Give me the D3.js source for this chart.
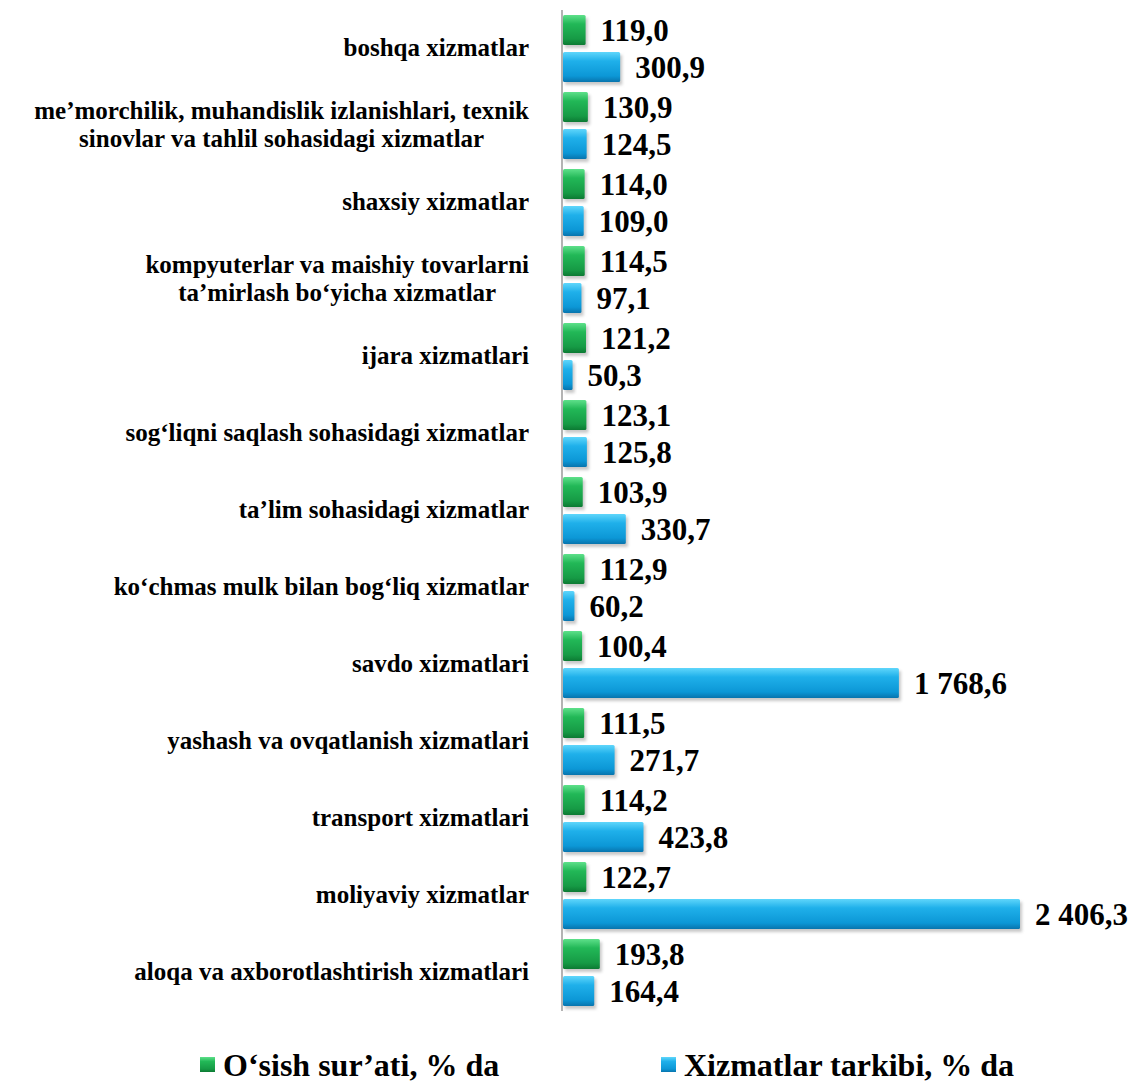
<!DOCTYPE html>
<html lang="uz">
<head>
<meta charset="UTF-8">
<title>Xizmatlar</title>
<script src="https://cdnjs.cloudflare.com/ajax/libs/d3/7.8.5/d3.min.js"></script>
<style>
    body { margin: 0; background: #fff; }
    svg { display: block; font-family: 'Liberation Serif', 'DejaVu Serif', serif; }
    text { font-weight: bold; fill: #000; }
    .cat { font-size: 25px; }
    .val { font-size: 31px; }
    .leg { font-size: 32px; }
</style>
</head>
<body>
<svg width="1132" height="1084"></svg>
<script>
    // kategoriyalar (ko'p qatorli yorliqlar massiv sifatida)
    const categories = [
        ["boshqa xizmatlar"],
        ["me’morchilik, muhandislik izlanishlari, texnik", "sinovlar va tahlil sohasidagi xizmatlar"],
        ["shaxsiy xizmatlar"],
        ["kompyuterlar va maishiy tovarlarni", "ta’mirlash bo‘yicha xizmatlar"],
        ["ijara xizmatlari"],
        ["sog‘liqni saqlash sohasidagi xizmatlar"],
        ["ta’lim sohasidagi xizmatlar"],
        ["ko‘chmas mulk bilan bog‘liq xizmatlar"],
        ["savdo xizmatlari"],
        ["yashash va ovqatlanish xizmatlari"],
        ["transport xizmatlari"],
        ["moliyaviy xizmatlar"],
        ["aloqa va axborotlashtirish xizmatlari"]
    ];
    const growth = [119.0, 130.9, 114.0, 114.5, 121.2, 123.1, 103.9, 112.9, 100.4, 111.5, 114.2, 122.7, 193.8];
    const structure = [300.9, 124.5, 109.0, 97.1, 50.3, 125.8, 330.7, 60.2, 1768.6, 271.7, 423.8, 2406.3, 164.4];
    const seriesNames = ["O‘sish sur’ati, % da", "Xizmatlar tarkibi, % da"];

    const svg = d3.select("svg");
    const defs = svg.append("defs");

    const colors = [
        ["#5ee08a", "#22b857", "#169a45", "#0c7a33"],
        ["#5fd6fb", "#1fb0ea", "#0c97d6", "#0874ad"]
    ];
    colors.forEach((c, i) => {
        const g = defs.append("linearGradient").attr("id", "grad" + i)
            .attr("x1", 0).attr("y1", 0).attr("x2", 0).attr("y2", 1);
        g.append("stop").attr("offset", "0%").attr("stop-color", c[0]);
        g.append("stop").attr("offset", "30%").attr("stop-color", c[1]);
        g.append("stop").attr("offset", "80%").attr("stop-color", c[2]);
        g.append("stop").attr("offset", "100%").attr("stop-color", c[3]);
    });
    const blur = defs.append("filter").attr("id", "shadow")
        .attr("x", "-10%").attr("y", "-10%").attr("width", "130%").attr("height", "140%");
    blur.append("feGaussianBlur").attr("stdDeviation", 1.5);

    const locale = d3.formatLocale({ decimal: ",", thousands: " ", grouping: [3], currency: ["", ""] });
    const fmt = locale.format(",.1f");

    const keys = categories.map((d, i) => i);
    const y0 = d3.scaleBand().domain(keys).range([10, 1011]);
    const y1 = d3.scaleBand().domain([0, 1]).range([5, 72]).paddingInner(0.19);
    const x = d3.scaleLinear().domain([0, 2406.3]).range([563, 1020]);

    const rows = keys.map(i => [growth[i], structure[i]]);

    const groups = svg.selectAll(".grp")
        .data(rows)
        .join("g")
        .attr("class", "grp")
        .attr("transform", (d, i) => `translate(0,${y0(i)})`);

    const bars = groups.selectAll(".bar")
        .data(d => d.map((v, s) => ({ v, s })))
        .join("g")
        .attr("class", "bar");

    bars.append("rect")
        .attr("x", x(0) + 2)
        .attr("y", d => y1(d.s) + 3)
        .attr("width", d => x(d.v) - x(0))
        .attr("height", y1.bandwidth())
        .attr("fill", "#c8c8c8")
        .attr("filter", "url(#shadow)");

    bars.append("rect")
        .attr("x", x(0))
        .attr("y", d => y1(d.s))
        .attr("width", d => x(d.v) - x(0))
        .attr("height", y1.bandwidth())
        .attr("rx", 1.5)
        .attr("fill", d => `url(#grad${d.s})`);

    bars.append("text")
        .attr("class", "val")
        .attr("x", d => x(d.v) + 15)
        .attr("y", d => y1(d.s) + y1.bandwidth() / 2)
        .attr("dy", "0.35em")
        .text(d => fmt(d.v));

    // o'q chizig'i
    svg.append("line")
        .attr("x1", 562).attr("x2", 562)
        .attr("y1", y0.range()[0]).attr("y2", y0.range()[1])
        .attr("stroke", "#9a9a9a").attr("stroke-width", 1.5);

    // kategoriya yorliqlari
    const labelRight = 529;
    categories.forEach((lines, i) => {
        const cy = y0(i) + y0.bandwidth() / 2 - 1;
        const t = svg.append("text").attr("class", "cat");
        const n = lines.length;
        lines.forEach((l, j) => {
            t.append("tspan")
                .attr("y", cy + (j - (n - 1) / 2) * 28)
                .attr("dy", "0.35em")
                .text(l);
        });
        if (n === 1) {
            t.attr("text-anchor", "end").selectAll("tspan").attr("x", labelRight);
        } else {
            let maxW = 0;
            t.selectAll("tspan").each(function () {
                maxW = Math.max(maxW, this.getComputedTextLength());
            });
            t.attr("text-anchor", "middle").selectAll("tspan").attr("x", labelRight - maxW / 2);
        }
    });

    // legenda
    const legendX = [200, 661];
    seriesNames.forEach((name, i) => {
        const g = svg.append("g").attr("transform", `translate(${legendX[i]},1057)`);
        g.append("rect").attr("width", 15).attr("height", 15).attr("fill", `url(#grad${i})`);
        g.append("text").attr("class", "leg").attr("x", 23).attr("y", 8).attr("dy", "0.33em").text(name);
    });
</script>
</body>
</html>
